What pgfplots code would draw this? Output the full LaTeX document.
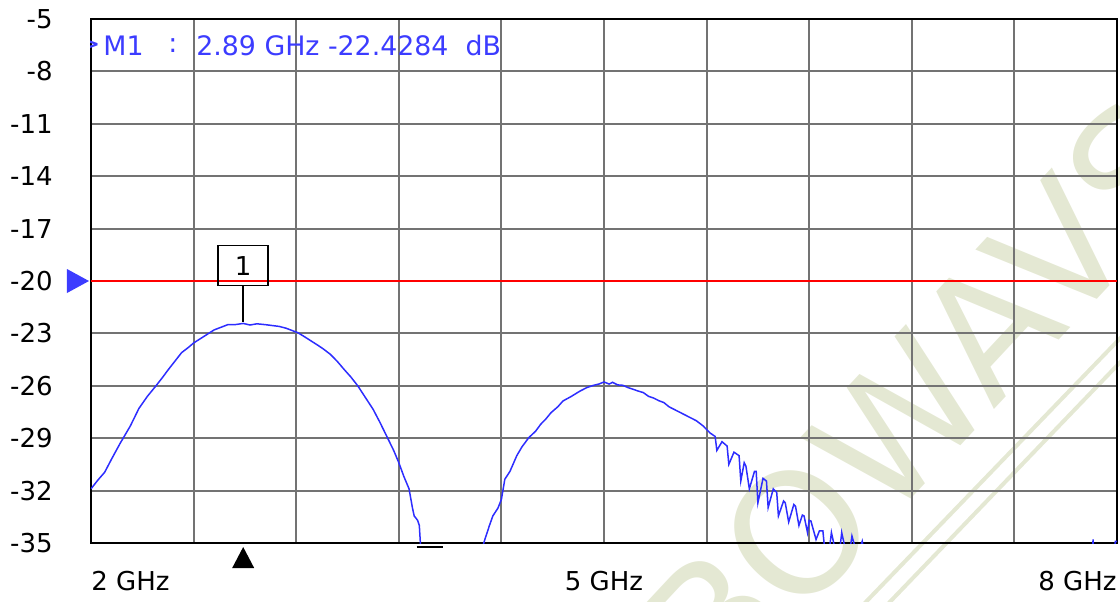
\documentclass[border=0pt]{standalone}
\usepackage{fontspec}
\setmainfont{DejaVu Sans}
\usepackage{pgfplots}
\pgfplotsset{compat=1.18}
\definecolor{trace}{RGB}{45,45,255}
\definecolor{gridc}{RGB}{115,115,115}
\definecolor{wm}{RGB}{228,232,211}
\definecolor{mtext}{RGB}{60,60,255}
\newcommand{\lf}{\fontsize{13}{15}\selectfont}
\begin{document}
\begin{tikzpicture}
% watermark (behind everything)
\node[rotate=47, text=wm, inner sep=0pt, font=\fontsize{84}{84}\selectfont] at (416pt,73pt) {BOWAVS};
\draw[wm, line width=2pt] (385pt,-32pt) -- (520pt,108pt);
\draw[wm, line width=2pt] (397pt,-32pt) -- (520pt,96pt);
\begin{axis}[
  name=ax,
  scale only axis,
  width=513pt, height=262pt,
  xmin=2, xmax=8, ymin=-35, ymax=-5,
  xtick={2,2.6,3.2,3.8,4.4,5,5.6,6.2,6.8,7.4,8},
  xticklabels={},
  ytick={-35,-32,-29,-26,-23,-20,-17,-14,-11,-8,-5},
  yticklabels={-35,-32,-29,-26,-23,-20,-17,-14,-11,-8,-5},
  yticklabel style={anchor=east, inner sep=0pt, xshift=-19pt, font=\lf},
  major tick length=0pt,
  grid=major,
  major grid style={gridc, line width=1pt},
  axis line style={black, line width=1pt},
  clip=true,
]
% limit line
\addplot[red, line width=1.2pt] coordinates {(2,-20) (8,-20)};
% trace
\addplot[trace, line width=0.75pt] coordinates {
(2.00,-31.9) (2.04,-31.4) (2.08,-30.95) (2.12,-30.2) (2.17,-29.3) (2.20,-28.8)
(2.23,-28.3) (2.28,-27.3) (2.33,-26.6) (2.38,-26.0) (2.42,-25.5) (2.45,-25.1)
(2.49,-24.6) (2.53,-24.1) (2.57,-23.8) (2.60,-23.55) (2.64,-23.3) (2.68,-23.05)
(2.72,-22.8) (2.76,-22.65) (2.80,-22.5) (2.84,-22.5) (2.89,-22.43) (2.93,-22.52)
(2.97,-22.45) (3.02,-22.5) (3.06,-22.55) (3.10,-22.6) (3.14,-22.7) (3.18,-22.85)
(3.21,-22.96) (3.25,-23.2) (3.29,-23.45) (3.33,-23.7) (3.36,-23.9) (3.40,-24.2)
(3.44,-24.6) (3.48,-25.06) (3.52,-25.5) (3.56,-26.0) (3.60,-26.6) (3.65,-27.35)
(3.69,-28.1) (3.73,-28.9) (3.77,-29.7) (3.80,-30.4) (3.83,-31.2) (3.86,-31.9)
(3.88,-33.0) (3.89,-33.45) (3.91,-33.7) (3.92,-34.0) (3.93,-35.6) (4.00,-40)
(4.25,-40) (4.28,-35.6) (4.30,-34.9) (4.33,-34.0) (4.35,-33.45) (4.38,-33.0)
(4.40,-32.5) (4.42,-31.35) (4.45,-30.9) (4.49,-30.0) (4.52,-29.5) (4.56,-28.97)
(4.60,-28.6) (4.63,-28.2) (4.66,-27.9) (4.69,-27.54) (4.73,-27.2) (4.76,-26.87)
(4.81,-26.6) (4.86,-26.3) (4.90,-26.1) (4.94,-25.97) (4.97,-25.9) (5.00,-25.78)
(5.03,-25.9) (5.05,-25.8) (5.08,-25.95) (5.11,-25.97) (5.14,-26.1) (5.17,-26.2)
(5.20,-26.3) (5.23,-26.39) (5.26,-26.6) (5.29,-26.7) (5.32,-26.85) (5.35,-26.96)
(5.38,-27.2) (5.42,-27.4) (5.46,-27.6) (5.50,-27.8) (5.54,-28.0) (5.58,-28.3)
(5.62,-28.7) (5.65,-28.9) (5.66,-29.7) (5.69,-29.2) (5.72,-29.45) (5.73,-30.5)
(5.76,-29.8) (5.79,-30.0) (5.80,-31.45) (5.82,-30.4) (5.83,-30.6) (5.85,-31.9)
(5.88,-30.9) (5.89,-30.9) (5.90,-32.7) (5.93,-31.3) (5.95,-31.45) (5.96,-32.97)
(5.99,-31.9) (6.01,-32.1) (6.02,-33.45) (6.05,-32.6) (6.06,-32.7) (6.08,-33.8)
(6.11,-32.8) (6.12,-32.9) (6.14,-34.0) (6.16,-33.4) (6.17,-33.45) (6.19,-34.4)
(6.20,-33.7) (6.21,-33.74) (6.24,-34.8) (6.26,-34.3) (6.28,-34.3) (6.29,-35.3)
(6.32,-35.2) (6.33,-34.4) (6.35,-35.3) (6.38,-35.3) (6.39,-34.4) (6.41,-35.3)
(6.44,-35.3) (6.45,-34.6) (6.47,-35.3) (6.50,-35.2) (6.51,-34.9) (6.53,-36)
(6.60,-40) (7.84,-40) (7.86,-34.8) (7.88,-40) (7.97,-40) (7.99,-34.9) (8.00,-34.9)
};
% marker 1
\addplot[black, line width=0.75pt] coordinates {(2.89,-22.35) (2.89,-20.31)}
  node[pos=1, anchor=south, draw, line width=0.75pt, minimum width=25pt, minimum height=20pt, inner sep=0pt, font=\lf] {1};
% marker readout (clipped by the axis box)
\node[anchor=east, inner sep=0pt, text=mtext, font=\fontsize{14}{15}\selectfont] at (rel axis cs:0.0098,0.9496) {>};
\node[anchor=west, inner sep=0pt, text=mtext, font=\fontsize{13.4}{15}\selectfont] at (rel axis cs:0.0117,0.9496) {M1};
\node[anchor=west, inner sep=0pt, text=mtext, font=\fontsize{13.4}{15}\selectfont] at (rel axis cs:0.075,0.9496) {:};
\node[anchor=west, inner sep=0pt, text=mtext, font=\fontsize{13.4}{15}\selectfont] at (rel axis cs:0.1023,0.9496) {2.89 GHz -22.4284\ \ dB};
\coordinate (mk) at (axis cs:2.89,-35);
\coordinate (rf) at (axis cs:2,-20);
\coordinate (dsh) at (axis cs:3.98,-35);
\coordinate (five) at (axis cs:5,-35);
\end{axis}
% annotations outside the plot box
\fill[black] ([yshift=-2pt]mk) -- ++(-5.5pt,-10.5pt) -- ++(11pt,0) -- cycle;
\fill[mtext] ([xshift=-1pt]rf) -- ++(-11pt,6pt) -- ++(0,-12pt) -- cycle;
\draw[black, line width=1pt] ([xshift=-6.5pt,yshift=-2.2pt]dsh) -- ++(13pt,0);
% x labels
\node[anchor=north west, inner sep=0pt, font=\lf] at ([yshift=-14pt]ax.south west) {2 GHz};
\node[anchor=north, inner sep=0pt, font=\lf] at ([yshift=-14pt]five) {5 GHz};
\node[anchor=north east, inner sep=0pt, font=\lf] at ([yshift=-14pt]ax.south east) {8 GHz};
\pgfresetboundingbox
\path[use as bounding box] (-45.5pt,-29pt) rectangle (514.5pt,271.5pt);
\end{tikzpicture}
\end{document}
